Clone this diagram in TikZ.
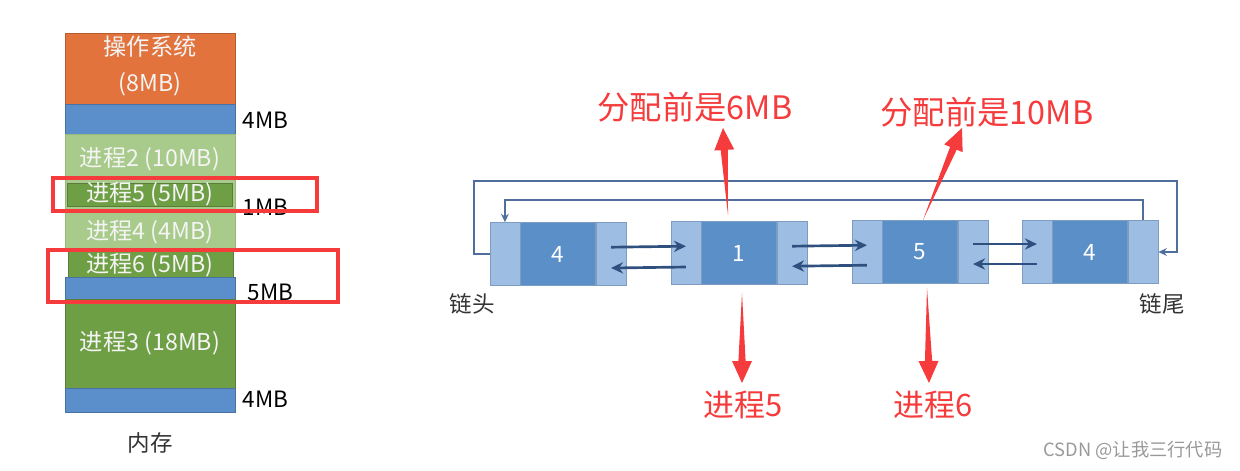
\documentclass[tikz,border=0pt]{standalone}
\usepackage{fontspec}
\usetikzlibrary{positioning,calc,arrows.meta}
\newfontfamily\cjk{Noto Sans CJK SC}

\definecolor{osorange}{HTML}{E2733D}
\definecolor{memblue}{HTML}{5B8FCB}
\definecolor{lightgreen}{HTML}{A8CB8B}
\definecolor{darkgreen}{HTML}{6F9F45}
\definecolor{memwhite}{HTML}{F4F4F4}
\definecolor{sideblue}{HTML}{9DBEE2}
\definecolor{coreblue}{HTML}{5A8FC8}
\definecolor{nodeborder}{HTML}{7C9CC2}
\definecolor{linkblue}{HTML}{2F4F7E}
\definecolor{loopblue}{HTML}{4F6E9C}
\definecolor{redmark}{HTML}{F53B3B}
\definecolor{darktext}{HTML}{333333}

\tikzset{
  every node/.style={font=\cjk},
  memtext/.style={text=memwhite, font=\cjk\fontsize{16.5}{25}\selectfont, align=center},
  sizelabel/.style={anchor=west, font=\cjk\fontsize{16}{20}\selectfont},
  side/.style={draw=nodeborder, fill=sideblue, minimum width=0.75cm, minimum height=1.575cm, inner sep=0pt},
  core/.style={draw=nodeborder, fill=coreblue, minimum width=1.875cm, minimum height=1.575cm, inner sep=0pt, text=white, font=\cjk\fontsize{16}{20}\selectfont},
  link/.style={draw=linkblue, line width=1.9pt, -{Stealth[length=8.5pt,width=8pt]}},
  ring/.style={draw=loopblue, line width=1.3pt},
  redbox/.style={draw=redmark, line width=2.2pt},
  redtext/.style={text=redmark, font=\cjk\fontsize{23}{26}\selectfont},
  endtext/.style={text=darktext, font=\cjk\fontsize{16}{20}\selectfont},
}

% tapered red pointer from #1 (thin end) to #2 (tip)
\newcommand{\redarrow}[2]{%
  \coordinate (ra-h) at ($(#2)!0.55cm!(#1)$);
  \fill[redmark] (#1) -- ($(ra-h)!0.09cm!90:(#2)$) -- ($(ra-h)!0.25cm!90:(#2)$) -- (#2)
    -- ($(ra-h)!0.25cm!-90:(#2)$) -- ($(ra-h)!0.09cm!-90:(#2)$) -- cycle;}

\begin{document}
\begin{tikzpicture}[x=0.025cm, y=-0.025cm]
  \useasboundingbox (0,0) rectangle (1240,470);
  % memory column
  \filldraw [draw=osorange!80!black, fill=osorange] (65,33) rectangle (235,104);
  \filldraw [draw=memblue!80!black, fill=memblue] (65,104) rectangle (235,134);
  \filldraw [draw=lightgreen!90!black, fill=lightgreen] (65,134) rectangle (235,250);
  \filldraw [draw=darkgreen!80!black, fill=darkgreen] (67,183) rectangle (232,206);
  \filldraw [draw=darkgreen!80!black, fill=darkgreen] (68,250) rectangle (233,277);
  \filldraw [draw=memblue!80!black, fill=memblue] (65,277) rectangle (235,299);
  \filldraw [draw=darkgreen!80!black, fill=darkgreen] (65,299) rectangle (235,388);
  \filldraw [draw=memblue!80!black, fill=memblue] (65,388) rectangle (235,412);
  \node [memtext] (os) at (150,66) {操作系统\\(8MB)};
  \node [memtext] (p2) at (150,159) {进程2 (10MB)};
  \node [memtext] (p5) at (150,194) {进程5 (5MB)};
  \node [memtext] (p4) at (150,232) {进程4 (4MB)};
  \node [memtext] (p6) at (150,265) {进程6 (5MB)};
  \node [memtext] (p3) at (150,343) {进程3 (18MB)};
  \node [sizelabel] (free1) at (238,120) {4MB};
  \node [sizelabel] (free2) at (238,207) {1MB};
  \node [sizelabel] (free3) at (243,292) {5MB};
  \node [sizelabel] (free4) at (238,399) {4MB};
  \node [text=darktext, font=\cjk\fontsize{16}{20}\selectfont] (mem) at (150,443) {内存};
  \draw [redbox] (53,178) rectangle (317,211);
  \draw [redbox] (48,250) rectangle (338,302);
  %
  % free-block list
  \node [core] (n1) at (558,254) {4};
  \node [side, left=0pt of n1] (n1l) {};
  \node [side, right=0pt of n1] (n1r) {};
  \node [core] (n2) at (739,253) {1};
  \node [side, left=0pt of n2] (n2l) {};
  \node [side, right=0pt of n2] (n2r) {};
  \node [core] (n3) at (920,252) {5};
  \node [side, left=0pt of n3] (n3l) {};
  \node [side, right=0pt of n3] (n3r) {};
  \node [core] (n4) at (1090,252) {4};
  \node [side, left=0pt of n4] (n4l) {};
  \node [side, right=0pt of n4] (n4r) {};
  \draw [link] ([yshift=0.17cm]n1r.center) -- ([yshift=0.17cm]n2l.center);
  \draw [link] ([yshift=-0.35cm]n2l.center) -- ([yshift=-0.35cm]n1r.center);
  \draw [link] ([yshift=0.17cm]n2r.center) -- ([yshift=0.17cm]n3l.center);
  \draw [link] ([yshift=-0.33cm]n3l.center) -- ([yshift=-0.33cm]n2r.center);
  \draw [link] ([yshift=0.2cm]n3r.center) -- ([yshift=0.2cm]n4l.center);
  \draw [link] ([yshift=-0.3cm]n4l.center) -- ([yshift=-0.3cm]n3r.center);
  \draw [ring, -{Stealth[length=6pt,width=5.5pt]}] (n1l.west) -| (474,181) -| ([xshift=0.475cm]n4r.east) -- (n4r.east);
  \draw [ring, -{Stealth[length=6pt,width=5.5pt]}] (n4r.north) |- ([yshift=0.55cm]n1l.north) -- (n1l.north);
  \node [endtext] (head) at (472,304) {链头};
  \node [endtext] (tail) at (1162,304) {链尾};
  %
  % red notes
  \node [redtext] (before6) at (695,107) {分配前是6MB};
  \node [redtext] (before10) at (987,112) {分配前是10MB};
  \node [redtext, font=\cjk\fontsize{22}{26}\selectfont] (proc5) at (743,405) {进程5};
  \node [redtext, font=\cjk\fontsize{22}{26}\selectfont] (proc6) at (933,405) {进程6};
  \coordinate (before6b) at (728,215);
  \coordinate (before6t) at (723,128);
  \coordinate (before10b) at (923,220);
  \coordinate (before10t) at (962,128);
  \coordinate (proc5b) at (742,293);
  \coordinate (proc5t) at (742,383);
  \coordinate (proc6b) at (927,288);
  \coordinate (proc6t) at (929,383);
  \redarrow{before6b}{before6t}
  \redarrow{before10b}{before10t}
  \redarrow{proc5b}{proc5t}
  \redarrow{proc6b}{proc6t}
  %
  \node [text=gray!80, font=\cjk\fontsize{13}{15}\selectfont] (mark) at (1133,450) {CSDN @让我三行代码};
\end{tikzpicture}
\end{document}
